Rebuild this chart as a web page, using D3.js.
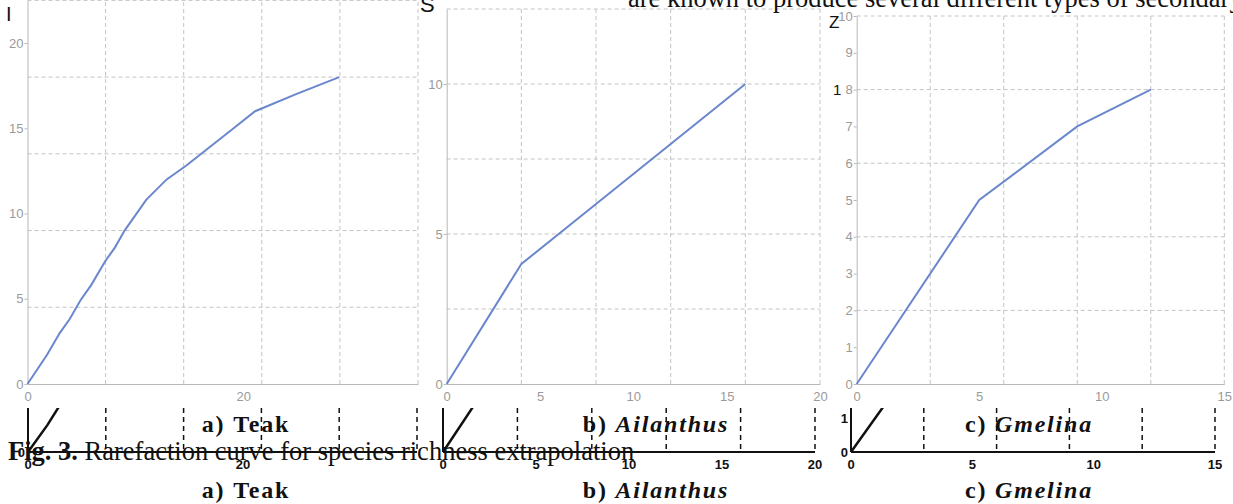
<!DOCTYPE html>
<html>
<head>
<meta charset="utf-8">
<script src="https://cdn.jsdelivr.net/npm/d3@7"></script>
<style>
  html, body { margin: 0; padding: 0; background: #fff; overflow: hidden; }
  svg { display: block; }
  .tick text { font-family: "Liberation Sans", Arial, sans-serif; }
</style>
</head>
<body>
<svg id="chart" width="1233" height="504"></svg>
<script>
/*=================
=== Data
=================*/

// a) Teak
const teakSamples = [0, 1.8, 3, 3.9, 4.9, 5.9, 7.2, 8.1, 9, 11, 12.9, 14.7, 16.9, 18.9, 21.1, 24.9, 28.9];
const teakSpecies = [0, 1.7, 3, 3.8, 4.9, 5.8, 7.2, 8, 9, 10.8, 12, 12.8, 13.9, 14.9, 16, 17, 18];
const teakXTicks = [0, 20];
const teakYTicks = [0, 5, 10, 15, 20];

// b) Ailanthus
const ailanthusSamples = [0, 4, 8, 12, 16];
const ailanthusSpecies = [0, 4, 6, 8, 10];
const ailanthusXTicks = [0, 5, 10, 15, 20];
const ailanthusYTicks = [0, 5, 10];

// c) Gmelina
const gmelinaSamples = [0, 5, 9, 12];
const gmelinaSpecies = [0, 5, 7, 8];
const gmelinaXTicks = [0, 5, 10, 15];
const gmelinaYTicks = [0, 1, 2, 3, 4, 5, 6, 7, 8, 9, 10];

// axis extents
const xMaxes = [36.2, 20, 15];
const yMaxes = [22.5, 12.5, 10];

// ghost (black print) strip labels
const ghostXTicks = [[0, 20], [0, 5, 10, 15, 20], [0, 5, 10, 15]];
const ghostYTicks = [[0], [], [0, 1]];

const captions = ['Teak', 'Ailanthus', 'Gmelina'];
const captionLetters = ['a)', 'b)', 'c)'];
const figLabel = 'Fig. 3.';
const figText = ' Rarefaction curve for species richness extrapolation';
const topText = 'are known to produce several different types of secondary';

/*=================
=== Layout
=================*/
const panels = [
  { xs: teakSamples, ys: teakSpecies, xTicks: teakXTicks, yTicks: teakYTicks,
    left: 27.5, right: 418, bottom: 384,
    gLeft: 28, gRight: 417, gUnit: 15.8, capX: 246, italic: false },
  { xs: ailanthusSamples, ys: ailanthusSpecies, xTicks: ailanthusXTicks, yTicks: ailanthusYTicks,
    left: 446.7, right: 820, bottom: 384,
    gLeft: 443, gRight: 815, gUnit: 28, capX: 656, italic: true },
  { xs: gmelinaSamples, ys: gmelinaSpecies, xTicks: gmelinaXTicks, yTicks: gmelinaYTicks,
    left: 856.7, right: 1224.3, bottom: 384,
    gLeft: 851, gRight: 1215, gUnit: 34, capX: 1029, italic: true },
];
const panelTops = [0.4, 9, 16];

const gridColor = '#c4c4c4';
const axisColor = '#b8b8b8';
const labelColor = '#9a9a9a';
const lineColor = '#6a87cd';

const ghostBase = 452;
const ghostTop = 408;

const svg = d3.select('#chart');

svg.append('defs').append('clipPath')
  .attr('id', 'ghostClip')
  .append('rect')
  .attr('x', 0).attr('y', ghostTop).attr('width', 1233).attr('height', ghostBase - ghostTop + 1);

panels.forEach((p, i) => {
  const x = d3.scaleLinear().domain([0, xMaxes[i]]).range([p.left, p.right]);
  const y = d3.scaleLinear().domain([0, yMaxes[i]]).range([p.bottom, panelTops[i]]);
  const g = svg.append('g');

  // grid: five divisions each way
  const gx = d3.range(1, 6).map(k => xMaxes[i] * k / 5);
  const gy = d3.range(1, 6).map(k => yMaxes[i] * k / 5);

  g.selectAll('.vgrid').data(gx).enter().append('line')
    .attr('x1', d => x(d)).attr('x2', d => x(d))
    .attr('y1', y(0)).attr('y2', y(yMaxes[i]))
    .attr('stroke', gridColor).attr('stroke-dasharray', '4,3');
  g.selectAll('.hgrid').data(gy).enter().append('line')
    .attr('x1', x(0)).attr('x2', x(xMaxes[i]))
    .attr('y1', d => y(d)).attr('y2', d => y(d))
    .attr('stroke', gridColor).attr('stroke-dasharray', '4,3');

  // axes
  const xAxis = g.append('g')
    .attr('transform', `translate(0, ${p.bottom})`)
    .call(d3.axisBottom(x).tickValues(p.xTicks).tickSize(0).tickPadding(8).tickSizeOuter(0));
  const yAxis = g.append('g')
    .attr('transform', `translate(${p.left}, 0)`)
    .call(d3.axisLeft(y).tickValues(p.yTicks).tickSize(3).tickPadding(1).tickSizeOuter(0));
  [xAxis, yAxis].forEach(a => {
    a.select('.domain').attr('stroke', axisColor);
    a.selectAll('.tick line').attr('stroke', axisColor);
    a.selectAll('.tick text').attr('fill', labelColor).style('font-size', '13px');
  });

  // curve
  const pts = p.xs.map((d, k) => [d, p.ys[k]]);
  g.append('path')
    .datum(pts)
    .attr('fill', 'none')
    .attr('stroke', lineColor)
    .attr('stroke-width', 2)
    .attr('d', d3.line().x(d => x(d[0])).y(d => y(d[1])));

  /*=== black print strip below (same data, clipped) ===*/
  const bx = d3.scaleLinear().domain([0, xMaxes[i]]).range([p.gLeft, p.gRight]);
  const by = d => ghostBase - d * p.gUnit;
  const ghost = svg.append('g').attr('clip-path', 'url(#ghostClip)');

  ghost.selectAll('.gv').data(gx).enter().append('line')
    .attr('x1', d => bx(d)).attr('x2', d => bx(d))
    .attr('y1', ghostTop).attr('y2', ghostBase)
    .attr('stroke', '#111').attr('stroke-width', 1.5).attr('stroke-dasharray', '5,4');
  ghost.append('line')
    .attr('x1', bx(0)).attr('x2', bx(0)).attr('y1', ghostTop).attr('y2', ghostBase)
    .attr('stroke', '#111').attr('stroke-width', 2);
  ghost.append('path')
    .datum(pts)
    .attr('fill', 'none').attr('stroke', '#111').attr('stroke-width', 2.5)
    .attr('d', d3.line().x(d => bx(d[0])).y(d => by(d[1])));

  svg.append('line')
    .attr('x1', bx(0)).attr('x2', bx(xMaxes[i])).attr('y1', ghostBase).attr('y2', ghostBase)
    .attr('stroke', '#111').attr('stroke-width', 2);

  svg.selectAll(null).data(ghostXTicks[i]).enter().append('text')
    .attr('x', d => bx(d)).attr('y', ghostBase + 17)
    .attr('text-anchor', 'middle')
    .attr('font-family', 'Liberation Sans, Arial, sans-serif')
    .attr('font-weight', 'bold').attr('font-size', 13).attr('fill', '#111')
    .text(d => d);
  svg.selectAll(null).data(ghostYTicks[i]).enter().append('text')
    .attr('x', bx(0) - 3).attr('y', d => by(d) + 5)
    .attr('text-anchor', 'end')
    .attr('font-family', 'Liberation Sans, Arial, sans-serif')
    .attr('font-weight', 'bold').attr('font-size', 13).attr('fill', '#111')
    .text(d => d);

  // captions (printed twice in the source)
  [432, 498].forEach(cy => {
    const t = svg.append('text')
      .attr('x', p.capX).attr('y', cy)
      .attr('text-anchor', 'middle')
      .attr('font-family', 'Liberation Serif, Times New Roman, serif')
      .attr('font-weight', 'bold').attr('font-size', 24).attr('fill', '#111')
      .attr('letter-spacing', '1.8px');
    t.append('tspan').text(captionLetters[i] + '\u00a0');
    t.append('tspan').attr('font-style', p.italic ? 'italic' : 'normal').text(captions[i]);
  });
});

// figure caption across the strip
const fig = svg.append('text')
  .attr('x', 8).attr('y', 460)
  .attr('font-family', 'Liberation Serif, Times New Roman, serif')
  .attr('font-size', 26.5).attr('fill', '#111');
fig.append('tspan').attr('font-weight', 'bold').text(figLabel);
fig.append('tspan').text(figText);

// page text cut off at the top
svg.append('text')
  .attr('x', 628).attr('y', 7)
  .attr('font-family', 'Liberation Serif, Times New Roman, serif')
  .attr('font-size', 26.5).attr('fill', '#111')
  .text(topText);

// stray glyphs from neighbouring text
const strays = [['I', 6, 21, 20], ['S', 420, 12, 22], ['Z', 829, 28, 17], ['1', 833, 95, 15]];
svg.selectAll(null).data(strays).enter().append('text')
  .attr('x', d => d[1]).attr('y', d => d[2])
  .attr('font-family', 'Liberation Sans, Arial, sans-serif')
  .attr('font-size', d => d[3]).attr('fill', '#111')
  .text(d => d[0]);
</script>
</body>
</html>
